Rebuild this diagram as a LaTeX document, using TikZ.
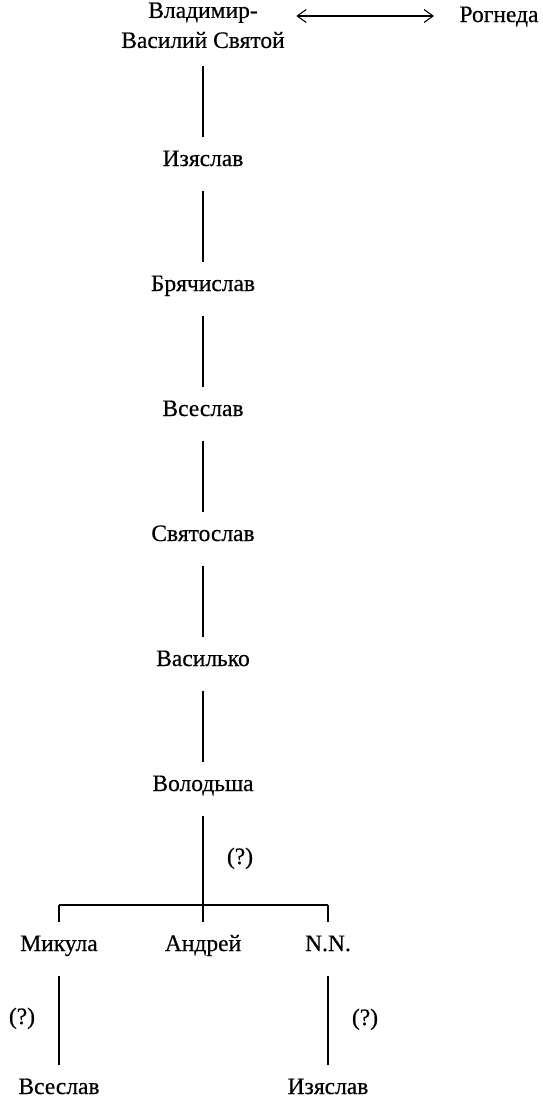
\documentclass[tikz,border=0pt]{standalone}
\usepackage{fontspec}
\setmainfont[FakeBold=0.5]{Liberation Serif}
\usetikzlibrary{positioning,arrows.meta}

\begin{document}
\begin{tikzpicture}[x=1pt, y=-1pt, line width=1.1pt,
  every node/.style={font=\fontsize{23.5}{30}\selectfont, inner sep=0pt, text height=16pt, text depth=4pt},
  lineage/.style={shorten <=20pt, shorten >=12pt},
  >={Straight Barb[length=9pt,width=13pt]}]
\useasboundingbox (0,0) rectangle (543,1101);
% main line
\node[align=center, text height=, text depth=, anchor=north] (vladimir) at (203,2) {Владимир-\\Василий Святой};
\node (rogneda) at (499,16) {Рогнеда};
\node (izjaslav) at (203,160) {Изяслав};
\node (brjachislav) at (203,285) {Брячислав};
\node (vseslav) at (203,410) {Всеслав};
\node (svjatoslav) at (203,535) {Святослав};
\node (vasilko) at (203,660) {Василько};
\node (volodsha) at (203,785) {Володьша};
% sons of Volodsha
\coordinate (bar) at (203,905);
\node (mikula) at (59,945) {Микула};
\node (andrej) at (203,945) {Андрей};
\node (nn) at (328,945) {N.N.};
\node (vseslavB) at (59,1088) {Всеслав};
\node (izjaslavB) at (328,1088) {Изяслав};
\node (q1) at (240,858) {(?)};
\node (q2) at (22,1018) {(?)};
\node (q3) at (365,1019) {(?)};
\draw[<->, shorten <=11pt, shorten >=25pt] (rogneda -| vladimir.east) -- (rogneda.west);
\draw[lineage, shorten <=17pt] (vladimir) -- (izjaslav);
\foreach \a/\b in {izjaslav/brjachislav, brjachislav/vseslav, vseslav/svjatoslav, svjatoslav/vasilko, vasilko/volodsha, volodsha/andrej, mikula/vseslavB, nn/izjaslavB}
  \draw[lineage] (\a) -- (\b);
\draw (bar -| mikula) -- (bar -| nn);
\draw[shorten >=12pt] (bar -| mikula) -- (mikula);
\draw[shorten >=12pt] (bar -| nn) -- (nn);
\end{tikzpicture}
\end{document}
